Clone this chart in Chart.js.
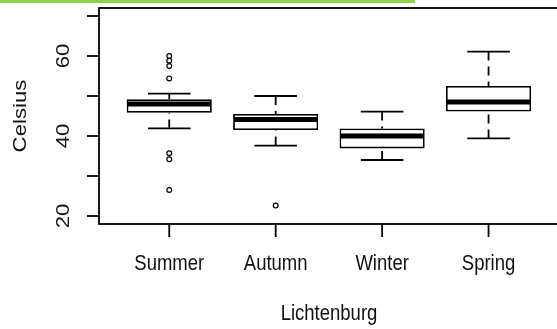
<!DOCTYPE html>
<html>
<head>
<meta charset="utf-8">
<script src="https://cdn.jsdelivr.net/npm/chart.js@4.4.0/dist/chart.umd.min.js"></script>
<style>
	html, body { margin: 0; padding: 0; background: #fff; overflow: hidden; width: 557px; height: 329px; }
	.topbar { position: absolute; left: 0; top: 0; width: 415px; height: 3px; background: #92d050; }
	#box { position: absolute; left: 0; top: 0; }
</style>
</head>
<body>
<div class="topbar"></div>
<canvas id="box" width="564" height="329"></canvas>
<script>
// Lichtenburg temperatures by season
const seasons = ['Summer', 'Autumn', 'Winter', 'Spring'];
const whiskerLow = [41.9, 37.6, 34.0, 39.4];
const q1 = [45.8, 41.5, 36.9, 46.1];
const median = [48.0, 44.1, 40.0, 48.5];
const q3 = [49.2, 45.5, 41.9, 52.5];
const whiskerHigh = [50.6, 50.0, 46.1, 61.1];
const outliers = [[60.0, 58.8, 57.5, 54.4, 35.7, 34.2, 26.5], [22.6], [], []];
const yTicks = [20, 30, 40, 50, 60, 70];
const yLabels = [20, 40, 60];
const xTitle = 'Lichtenburg';
const yTitle = 'Celsius';

const font = '18.5px "Liberation Sans", Arial, sans-serif';
const stretch = 1.2; // the picture is a bit taller than R drew it
const lw = 1.8;

function text(ctx, str, x, y, rotate) {
	ctx.save();
	ctx.translate(x, y);
	if (rotate) { ctx.rotate(-Math.PI / 2); ctx.scale(stretch, 1); }
	else ctx.scale(1, stretch);
	ctx.fillText(str, 0, 0);
	ctx.restore();
}

const rBoxplot = {
	id: 'rBoxplot',
	afterDatasetsDraw(chart) {
		const ctx = chart.ctx, xs = chart.scales.x, ys = chart.scales.y;
		const unit = xs.getPixelForValue(1) - xs.getPixelForValue(0);
		ctx.save();
		ctx.strokeStyle = '#000';

		seasons.forEach((s, i) => {
			const cx = xs.getPixelForValue(i + 1);
			const half = unit * 0.2;
			// whiskers: dashed from cap to box, then the staple
			ctx.lineWidth = lw;
			ctx.setLineDash([9, 6]);
			[[whiskerHigh[i], q3[i]], [whiskerLow[i], q1[i]]].forEach(([w, q]) => {
				ctx.beginPath();
				ctx.moveTo(cx, ys.getPixelForValue(w));
				ctx.lineTo(cx, ys.getPixelForValue(q));
				ctx.stroke();
			});
			ctx.setLineDash([]);
			[whiskerHigh[i], whiskerLow[i]].forEach(w => {
				const py = ys.getPixelForValue(w);
				ctx.beginPath();
				ctx.moveTo(cx - half, py);
				ctx.lineTo(cx + half, py);
				ctx.stroke();
			});
			// median
			const my = ys.getPixelForValue(median[i]);
			ctx.lineWidth = 5;
			ctx.beginPath();
			ctx.moveTo(cx - unit * 0.4 + 1, my);
			ctx.lineTo(cx + unit * 0.4 - 1, my);
			ctx.stroke();
		});
		ctx.restore();
	},
	afterDraw(chart) {
		const ctx = chart.ctx, xs = chart.scales.x, ys = chart.scales.y, a = chart.chartArea;
		ctx.save();
		ctx.strokeStyle = '#000';
		ctx.lineWidth = lw;
		ctx.strokeRect(a.left, a.top, a.right - a.left, a.bottom - a.top);

		ctx.fillStyle = '#111';
		ctx.font = font;
		// y axis
		yTicks.forEach(v => {
			const py = ys.getPixelForValue(v);
			ctx.beginPath();
			ctx.moveTo(a.left - 12, py);
			ctx.lineTo(a.left, py);
			ctx.stroke();
		});
		ctx.textAlign = 'center';
		ctx.textBaseline = 'middle';
		yLabels.forEach(v => text(ctx, String(v), 64, ys.getPixelForValue(v), true));
		text(ctx, yTitle, 21, (a.top + a.bottom) / 2, true);

		// x axis
		ctx.textBaseline = 'alphabetic';
		seasons.forEach((s, i) => {
			const px = xs.getPixelForValue(i + 1);
			ctx.beginPath();
			ctx.moveTo(px, a.bottom);
			ctx.lineTo(px, a.bottom + 13);
			ctx.stroke();
			text(ctx, s, px, 270, false);
		});
		text(ctx, xTitle, 329, 320, false);
		ctx.restore();
	}
};

new Chart(document.getElementById('box'), {
	type: 'bar',
	data: {
		datasets: [{
			type: 'bar',
			data: seasons.map((s, i) => ({ x: i + 1, y: [q1[i], q3[i]] })),
			backgroundColor: '#fff',
			borderColor: '#000',
			borderWidth: lw,
			borderSkipped: false,
			barPercentage: 0.8,
			categoryPercentage: 1,
			order: 2
		}, {
			type: 'scatter',
			data: outliers.flatMap((list, i) => list.map(v => ({ x: i + 1, y: v }))),
			pointStyle: 'circle',
			radius: 2.4,
			borderWidth: 1.2,
			borderColor: '#000',
			backgroundColor: 'rgba(0,0,0,0)',
			order: 1
		}]
	},
	options: {
		responsive: false,
		devicePixelRatio: 1,
		animation: false,
		layout: { padding: { left: 99, top: 8, right: 1, bottom: 105 } },
		plugins: { legend: { display: false }, tooltip: { enabled: false } },
		scales: {
			x: {
				type: 'linear', min: 0.34, max: 4.66, offset: false, display: false,
				afterBuildTicks: scale => { scale.ticks = seasons.map((s, i) => ({ value: i + 1 })); }
			},
			y: { min: 18, max: 72, display: false }
		}
	},
	plugins: [rBoxplot]
});
</script>
</body>
</html>
